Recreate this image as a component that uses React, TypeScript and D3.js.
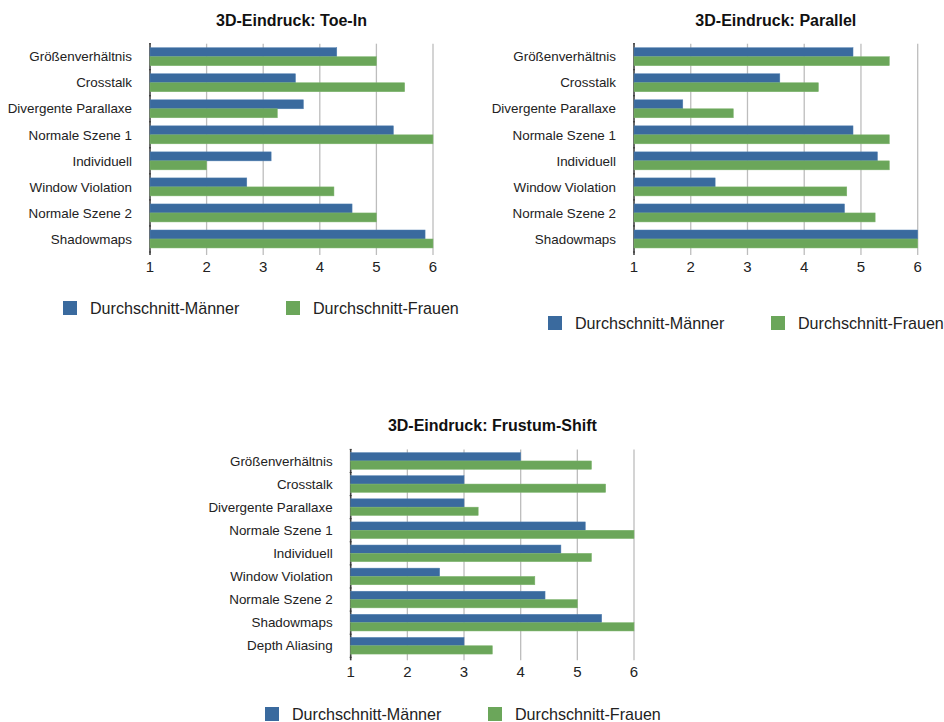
import React from "react";
import * as d3 from "d3";

const categories8 = [
  "Größenverhältnis",
  "Crosstalk",
  "Divergente Parallaxe",
  "Normale Szene 1",
  "Individuell",
  "Window Violation",
  "Normale Szene 2",
  "Shadowmaps",
];
const categories9 = [...categories8, "Depth Aliasing"];

const seriesNames = ["Durchschnitt-Männer", "Durchschnitt-Frauen"];

const toeInMen = [4.3, 3.57, 3.71, 5.3, 3.14, 2.71, 4.57, 5.86];
const toeInWomen = [5.0, 5.5, 3.25, 6.0, 2.0, 4.25, 5.0, 6.0];

const parallelMen = [4.86, 3.57, 1.86, 4.86, 5.29, 2.43, 4.71, 6.0];
const parallelWomen = [5.5, 4.25, 2.75, 5.5, 5.5, 4.75, 5.25, 6.0];

const frustumMen = [4.0, 3.0, 3.0, 5.14, 4.71, 2.57, 4.43, 5.43, 3.0];
const frustumWomen = [5.25, 5.5, 3.25, 6.0, 5.25, 4.25, 5.0, 6.0, 3.5];

const xTicks = [1, 2, 3, 4, 5, 6];

const BLUE = "#3a6a9e";
const GREEN = "#6ba65a";
const FONT = "'Liberation Sans', Arial, Helvetica, sans-serif";

type ChartProps = {
  title: string;
  cats: string[];
  men: number[];
  women: number[];
  x0: number;
  x1: number;
  y0: number;
  y1: number;
  titleY: number;
  tickY: number;
  padInner: number;
};

function Chart({ title, cats, men, women, x0, x1, y0, y1, titleY, tickY, padInner }: ChartProps) {
  const x = d3.scaleLinear().domain([1, 6]).range([x0, x1]);
  const y = d3
    .scaleBand<string>()
    .domain(cats)
    .range([y0, y1])
    .paddingInner(padInner)
    .paddingOuter(padInner / 2);
  const sub = d3.scaleBand<string>().domain(seriesNames).range([0, y.bandwidth()]);
  const step = y.step();
  const boundaries = cats.map((_, i) => y0 + i * step).concat([y1]);
  return (
    <g>
      <text
        x={(x0 + x1) / 2}
        y={titleY}
        textAnchor="middle"
        fontFamily={FONT}
        fontWeight="bold"
        fontSize={16}
        fill="#111"
      >
        {title}
      </text>
      {xTicks.map((t) => (
        <line
          key={"g" + t}
          x1={x(t)}
          x2={x(t)}
          y1={y0}
          y2={y1 + 3}
          stroke={t === 1 ? "#444" : "#bdbdbd"}
          strokeWidth={t === 1 ? 1.6 : 1.3}
        />
      ))}
      {boundaries.map((b, i) => (
        <line key={"tk" + i} x1={x0 - 1} x2={x0 + 1} y1={b} y2={b} stroke="#333" strokeWidth={1} />
      ))}
      {cats.map((c, i) => (
        <g key={c}>
          <rect
            x={x(1)}
            y={(y(c) as number) + (sub(seriesNames[0]) as number)}
            width={x(men[i]) - x(1)}
            height={sub.bandwidth()}
            fill={BLUE}
            stroke="#4f7fb0"
            strokeWidth={0.5}
          />
          <rect
            x={x(1)}
            y={(y(c) as number) + (sub(seriesNames[1]) as number)}
            width={x(women[i]) - x(1)}
            height={sub.bandwidth()}
            fill={GREEN}
            stroke="#7db46c"
            strokeWidth={0.5}
          />
          <text
            x={x0 - 18}
            y={(y(c) as number) + y.bandwidth() / 2}
            dy="0.35em"
            textAnchor="end"
            fontFamily={FONT}
            fontSize={13.4}
            fill="#222"
          >
            {c}
          </text>
        </g>
      ))}
      {xTicks.map((t) => (
        <text
          key={"t" + t}
          x={x(t)}
          y={tickY}
          textAnchor="middle"
          fontFamily={FONT}
          fontSize={15}
          fill="#222"
        >
          {t}
        </text>
      ))}
    </g>
  );
}

type LegendProps = { bx: number; gx: number; y: number };
function Legend({ bx, gx, y }: LegendProps) {
  return (
    <g fontFamily={FONT} fontSize={16.1} fill="#222">
      <rect x={bx} y={y - 7} width={14} height={14} fill={BLUE} />
      <text x={bx + 27} y={y} dy="0.35em">
        {seriesNames[0]}
      </text>
      <rect x={gx} y={y - 7} width={14} height={14} fill={GREEN} />
      <text x={gx + 27} y={y} dy="0.35em">
        {seriesNames[1]}
      </text>
    </g>
  );
}

export default function App() {
  return (
    <svg
      width={944}
      height={722}
      style={{ position: "absolute", left: 0, top: 0, background: "#fff" }}
    >
      <Chart
        title="3D-Eindruck: Toe-In"
        cats={categories8}
        men={toeInMen}
        women={toeInWomen}
        x0={150}
        x1={433}
        y0={43.7}
        y1={252}
        titleY={26}
        tickY={272}
        padInner={0.31}
      />
      <Chart
        title="3D-Eindruck: Parallel"
        cats={categories8}
        men={parallelMen}
        women={parallelWomen}
        x0={634}
        x1={917.7}
        y0={43.7}
        y1={252}
        titleY={26}
        tickY={272}
        padInner={0.31}
      />
      <Chart
        title="3D-Eindruck: Frustum-Shift"
        cats={categories9}
        men={frustumMen}
        women={frustumWomen}
        x0={350.7}
        x1={634}
        y0={449.4}
        y1={657.3}
        titleY={431}
        tickY={676.5}
        padInner={0.28}
      />
      <Legend bx={63} gx={286} y={308} />
      <Legend bx={548} gx={771} y={323} />
      <Legend bx={265} gx={488} y={714} />
    </svg>
  );
}
